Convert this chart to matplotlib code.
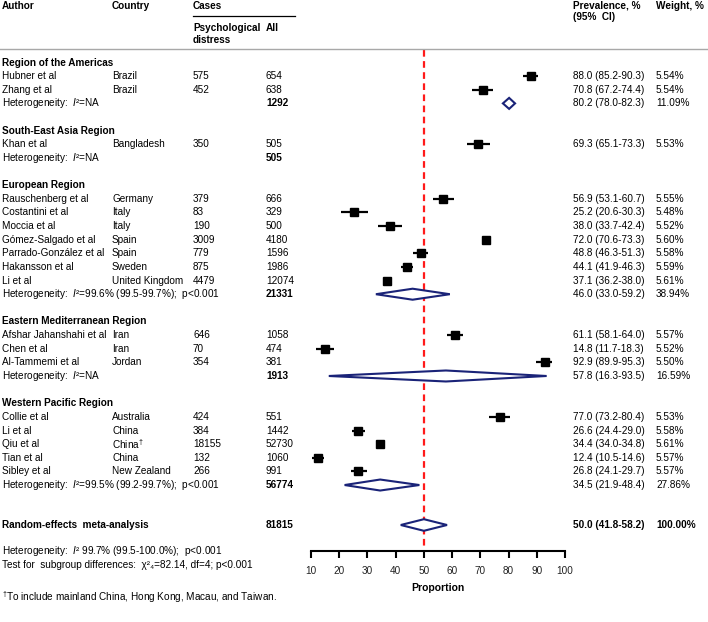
import matplotlib
matplotlib.use("Agg")
import matplotlib.pyplot as plt
from matplotlib.patches import Polygon
from matplotlib.transforms import blended_transform_factory

plt.rcParams['font.family'] = ['Liberation Sans', 'DejaVu Sans']
plt.rcParams['mathtext.fontset'] = 'custom'
plt.rcParams['mathtext.rm'] = 'Liberation Sans'
plt.rcParams['mathtext.it'] = 'Liberation Sans:italic'
plt.rcParams['mathtext.bf'] = 'Liberation Sans:bold'

# ---------------- data ----------------
regions = ["Region of the Americas", "South-East Asia Region", "European Region",
           "Eastern Mediterranean Region", "Western Pacific Region"]
authors = ["Hubner et al", "Zhang et al", "Khan et al", "Rauschenberg et al", "Costantini et al",
           "Moccia et al", "Gómez-Salgado et al", "Parrado-González et al", "Hakansson et al",
           "Li et al", "Afshar Jahanshahi et al", "Chen et al", "Al-Tammemi et al",
           "Collie et al", "Li et al", "Qiu et al", "Tian et al", "Sibley et al"]
countries = ["Brazil", "Brazil", "Bangladesh", "Germany", "Italy", "Italy", "Spain", "Spain",
             "Sweden", "United Kingdom", "Iran", "Iran", "Jordan", "Australia", "China",
             r"China$^{\dagger}$", "China", "New Zealand"]
distress = [575, 452, 350, 379, 83, 190, 3009, 779, 875, 4479, 646, 70, 354, 424, 384, 18155, 132, 266]
totals = [654, 638, 505, 666, 329, 500, 4180, 1596, 1986, 12074, 1058, 474, 381, 551, 1442, 52730, 1060, 991]
prev = [88.0, 70.8, 69.3, 56.9, 25.2, 38.0, 72.0, 48.8, 44.1, 37.1, 61.1, 14.8, 92.9, 77.0, 26.6, 34.4, 12.4, 26.8]
ci_lo = [85.2, 67.2, 65.1, 53.1, 20.6, 33.7, 70.6, 46.3, 41.9, 36.2, 58.1, 11.7, 89.9, 73.2, 24.4, 34.0, 10.5, 24.1]
ci_hi = [90.3, 74.4, 73.3, 60.7, 30.3, 42.4, 73.3, 51.3, 46.3, 38.0, 64.0, 18.3, 95.3, 80.4, 29.0, 34.8, 14.6, 29.7]
weights = [5.54, 5.54, 5.53, 5.55, 5.48, 5.52, 5.60, 5.58, 5.59, 5.61, 5.57, 5.52, 5.50, 5.53, 5.58, 5.61, 5.57, 5.57]
study_region = [0, 0, 1, 2, 2, 2, 2, 2, 2, 2, 3, 3, 3, 4, 4, 4, 4, 4]

group_total = [1292, 505, 21331, 1913, 56774]
group_prev = [80.2, None, 46.0, 57.8, 34.5]
group_lo = [78.0, None, 33.0, 16.3, 21.9]
group_hi = [82.3, None, 59.2, 93.5, 48.4]
group_weight = [11.09, None, 38.94, 16.59, 27.86]
group_het = ["=NA", "=NA", "=99.6% (99.5-99.7%);  p<0.001", "=NA", "=99.5% (99.2-99.7%);  p<0.001"]

overall_total = 81815
overall_prev, overall_lo, overall_hi = 50.0, 41.8, 58.2
overall_het = " 99.7% (99.5-100.0%);  p<0.001"
subgroup_test = "Test for  subgroup differences:  χ²₄=82.14, df=4; p<0.001"

xticks = [10, 20, 30, 40, 50, 60, 70, 80, 90, 100]

# ---------------- layout ----------------
W, H = 708, 622
fig = plt.figure(figsize=(W / 100, H / 100), dpi=100)
ax_left, ax_right, ax_bottom_px = 311, 565, 551
ax = fig.add_axes([ax_left / W, (H - ax_bottom_px) / H, (ax_right - ax_left) / W, ax_bottom_px / H])
ax.set_xlim(10, 100)
ax.set_ylim(ax_bottom_px, 0)
for s in ["top", "left", "right"]:
    ax.spines[s].set_visible(False)
ax.spines["bottom"].set_linewidth(1.5)
ax.set_yticks([])
ax.set_xticks(xticks)
ax.tick_params(axis="x", direction="out", length=5, width=1.5, labelsize=7.2, pad=6,
               colors="black", labelcolor="#222222")
ax.set_xlabel("Proportion", fontsize=7.5, fontweight="bold", labelpad=5)
ax.patch.set_alpha(0)

tr = blended_transform_factory(fig.transFigure, ax.transData)
FS = 7.2
X_AUTH, X_CTRY, X_PD, X_ALL, X_PREV, X_W = 2, 112, 193, 266, 573, 656

def T(x, y, s, bold=False, **kw):
    fig.text(x / W, y, s, transform=tr, fontsize=FS, va="center", ha="left",
             fontweight="bold" if bold else "normal", **kw)

HET = r"Heterogeneity:  $\mathit{I}$²"

# header
T(X_AUTH, 6, "Author", bold=True)
T(X_CTRY, 6, "Country", bold=True)
T(X_PD, 6, "Cases", bold=True)
T(X_PD, 28, "Psychological", bold=True)
T(X_PD, 40, "distress", bold=True)
T(X_ALL, 28, "All", bold=True)
T(X_PREV, 6, "Prevalence, %", bold=True)
T(X_PREV, 17, "(95%  CI)", bold=True)
T(X_W, 6, "Weight, %", bold=True)
ax.plot([X_PD / W, 295 / W], [15.7, 15.7], transform=tr, color="black", lw=0.9, clip_on=False)
ax.plot([0, 1], [49.3, 49.3], transform=tr, color="#a8a8a8", lw=1.0, clip_on=False)

# reference line
ax.plot([50, 50], [49.5, ax_bottom_px], color="#ff1a1a", lw=1.6, ls=(0, (3, 2)), zorder=1)

Y0, STEP = 62.5, 13.63
navy = "#1a2378"

def diamond(y, lo, est, hi, h=5.5):
    ax.add_patch(Polygon([(lo, y), (est, y - h), (hi, y), (est, y + h)], closed=True,
                         facecolor="white", edgecolor=navy, lw=1.5, zorder=3, clip_on=False))

row = 0
for g, gname in enumerate(regions):
    y = Y0 + row * STEP
    T(X_AUTH, y, gname, bold=True)
    row += 1
    for i in range(len(authors)):
        if study_region[i] != g:
            continue
        y = Y0 + row * STEP
        T(X_AUTH, y, authors[i])
        T(X_CTRY, y, countries[i])
        T(X_PD, y, str(distress[i]))
        T(X_ALL, y, str(totals[i]))
        T(X_PREV, y, f"{prev[i]:.1f} ({ci_lo[i]:.1f}-{ci_hi[i]:.1f})")
        T(X_W, y, f"{weights[i]:.2f}%")
        ax.plot([ci_lo[i], ci_hi[i]], [y, y], color="black", lw=1.6, zorder=4, solid_capstyle="butt")
        ax.plot([prev[i]], [y], marker="s", ms=6.4, color="black", zorder=5)
        row += 1
    y = Y0 + row * STEP
    T(X_AUTH, y, HET + group_het[g])
    T(X_ALL, y, str(group_total[g]), bold=True)
    if group_prev[g] is not None:
        T(X_PREV, y, f"{group_prev[g]:.1f} ({group_lo[g]:.1f}-{group_hi[g]:.1f})")
        T(X_W, y, f"{group_weight[g]:.2f}%")
        diamond(y, group_lo[g], group_prev[g], group_hi[g])
    row += 2

y = 525
T(X_AUTH, y, "Random-effects  meta-analysis", bold=True)
T(X_ALL, y, str(overall_total), bold=True)
T(X_PREV, y, f"{overall_prev:.1f} ({overall_lo:.1f}-{overall_hi:.1f})", bold=True)
T(X_W, y, "100.00%", bold=True)
diamond(y, overall_lo, overall_prev, overall_hi, h=5.8)

T(X_AUTH, 551, HET + overall_het)
T(X_AUTH, 564.5, subgroup_test)
T(X_AUTH, 597, r"$^{\dagger}$To include mainland China, Hong Kong, Macau, and Taiwan.")

fig.savefig("out.png", dpi=100)
